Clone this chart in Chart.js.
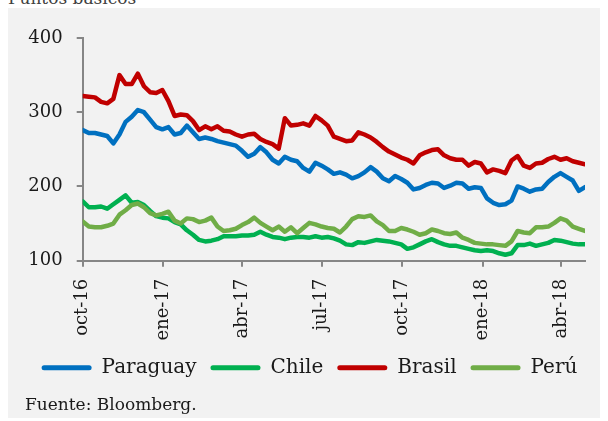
<!DOCTYPE html>
<html lang="es">
<head>
<meta charset="utf-8">
<script src="https://cdn.jsdelivr.net/npm/chart.js@4.4.1/dist/chart.umd.min.js"></script>
<style>
  html, body { margin: 0; padding: 0; background: #fff; width: 608px; height: 421px; overflow: hidden; }
  #titulo { position: absolute; left: 8px; top: -10px; font: 17px/17px 'DejaVu Serif', serif; color: #404040; white-space: nowrap; }
  #panel { position: absolute; left: 8px; top: 8px; width: 592px; height: 410px; background: #f2f2f2; }
  #chart { position: absolute; left: 0; top: 0; }
  #fuente { position: absolute; left: 17px; top: 388px; font: 17px/17px 'DejaVu Serif', serif; color: #1a1a1a; white-space: nowrap; }
</style>
</head>
<body>
<div id="titulo">Puntos básicos</div>
<div id="panel">
  <canvas id="chart" width="592" height="410"></canvas>
  <div id="fuente">Fuente: Bloomberg.</div>
</div>
<script>
// Spreads semanales, puntos básicos (desde 01-oct-2016, un dato cada 7 días)
const paraguay = [
  276, 272, 272, 270, 268, 258, 270, 287, 294, 303,
  300, 290, 280, 277, 280, 270, 272, 282, 273, 264,
  266, 264, 261, 259, 257, 255, 248, 240, 244, 253,
  246, 236, 231, 240, 236, 234, 225, 220, 232, 228,
  223, 217, 219, 216, 211, 214, 219, 226, 220, 211,
  207, 214, 210, 205, 196, 198, 202, 205, 204, 198,
  201, 205, 204, 197, 199, 198, 184, 178, 175, 176,
  181, 200, 197, 193, 196, 197, 206, 213, 218, 213,
  208, 194, 199
];
const chile = [
  180, 172, 172, 173, 170, 176, 182, 188, 178, 179,
  175, 167, 160, 158, 157, 152, 149, 141, 135, 128,
  126, 127, 129, 133, 133, 133, 134, 134, 135, 139,
  135, 132, 131, 129, 131, 132, 132, 131, 133, 131,
  132, 130, 127, 122, 121, 125, 124, 126, 128, 127,
  126, 124, 122, 116, 118, 122, 126, 129, 125, 122,
  120, 120, 118, 116, 114, 113, 114, 113, 110, 108,
  110, 121, 121, 123, 120, 122, 124, 128, 127, 125,
  123, 122, 122
];
const brasil = [
  322, 321, 320, 314, 312, 318, 350, 338, 338, 352,
  335, 327, 326, 330, 315, 295, 297, 296, 288, 276,
  281, 277, 281, 275, 274, 270, 267, 270, 271, 264,
  260, 257, 251, 292, 282, 283, 285, 282, 295, 289,
  282, 267, 264, 261, 262, 273, 270, 266, 260, 253,
  247, 243, 239, 236, 231, 242, 246, 249, 250, 242,
  238, 236, 236, 228, 233, 231, 219, 223, 221, 218,
  235, 241, 228, 225, 231, 232, 237, 240, 236, 238,
  234, 232, 230
];
const peru = [
  153, 146, 145, 145, 147, 150, 162, 168, 175, 177,
  172, 164, 161, 163, 166, 154, 150, 157, 156, 152,
  154, 158, 146, 140, 141, 143, 148, 152, 158, 151,
  146, 141, 146, 139, 145, 137, 144, 151, 149, 146,
  144, 143, 138, 146, 156, 160, 159, 161, 153, 148,
  140, 140, 144, 142, 139, 135, 137, 142, 140, 137,
  136, 138, 131, 128, 124, 123, 122, 122, 121, 120,
  126, 140, 138, 137, 145, 145, 146, 151, 157, 154,
  146, 143, 140
];

// eje x: días transcurridos desde el 01-oct-2016
const dias = paraguay.map((_, i) => i * 7);
const etiquetas = ['oct-16', 'ene-17', 'abr-17', 'jul-17', 'oct-17', 'ene-18', 'abr-18'];
const diasEtiqueta = [0, 92, 182, 273, 365, 457, 547];

const series = [
  { label: 'Paraguay', data: paraguay, color: '#0070c0', order: 4 },
  { label: 'Chile', data: chile, color: '#00b050', order: 3 },
  { label: 'Brasil', data: brasil, color: '#c00000', order: 2 },
  { label: 'Perú', data: peru, color: '#70ad47', order: 1 }
];

const fuente = "'DejaVu Serif', serif";
const gris = '#868686';
const texto = '#1a1a1a';

// la leyenda del original no está centrada en el lienzo: se corre un poco a la derecha
const correrLeyenda = {
  id: 'correrLeyenda',
  beforeDraw(chart) {
    if (chart.legend && !chart.legend._corrida) {
      chart.legend.left += 13;
      chart.legend.right += 13;
      chart.legend._corrida = true;
    }
  }
};

const ctx = document.getElementById('chart').getContext('2d');
new Chart(ctx, {
  type: 'line',
  data: {
    datasets: series.map(s => ({
      label: s.label,
      data: s.data.map((v, i) => ({ x: dias[i], y: v })),
      borderColor: s.color,
      backgroundColor: s.color,
      borderWidth: 4.5,
      pointRadius: 0,
      tension: 0,
      borderJoinStyle: 'round',
      borderCapStyle: 'round',
      order: s.order
    }))
  },
  options: {
    responsive: false,
    animation: false,
    layout: { padding: { left: 0, right: 15, top: 30, bottom: 30.3 } },
    scales: {
      x: {
        type: 'linear',
        min: 0,
        max: 574,
        afterBuildTicks: s => { s.ticks = diasEtiqueta.map(v => ({ value: v })); },
        afterFit: s => { s.height = 83; },
        ticks: {
          minRotation: 90,
          maxRotation: 90,
          padding: 12,
          color: texto,
          font: { family: fuente, size: 18 },
          callback: v => etiquetas[diasEtiqueta.indexOf(v)]
        },
        grid: { drawOnChartArea: false, drawTicks: true, tickLength: 6, color: gris, lineWidth: 2 },
        border: { display: true, color: gris, width: 2 }
      },
      y: {
        min: 100,
        max: 400,
        afterFit: s => { s.width = 74.7; },
        ticks: {
          stepSize: 100,
          padding: 14,
          color: texto,
          font: { family: fuente, size: 18 }
        },
        grid: { drawOnChartArea: false, drawTicks: true, tickLength: 6, color: gris, lineWidth: 2 },
        border: { display: true, color: gris, width: 2 }
      }
    },
    plugins: {
      tooltip: { enabled: false },
      legend: {
        position: 'bottom',
        labels: {
          color: texto,
          font: { family: fuente, size: 20 },
          boxWidth: 50,
          boxHeight: 5,
          padding: 14,
          sort: (a, b) => a.datasetIndex - b.datasetIndex,
          generateLabels: chart => Chart.defaults.plugins.legend.labels.generateLabels(chart).map(l => {
            const s = series[l.datasetIndex];
            return { ...l, fillStyle: s.color, strokeStyle: s.color, lineWidth: 0, borderRadius: 2.5 };
          })
        }
      }
    }
  },
  plugins: [correrLeyenda]
});
</script>
</body>
</html>
